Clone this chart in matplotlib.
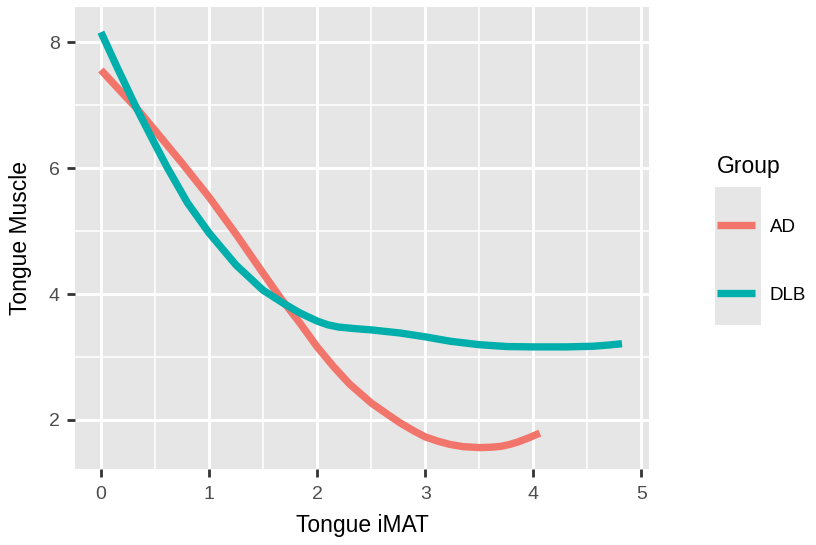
import matplotlib.pyplot as plt
from matplotlib.patches import Rectangle
from matplotlib.ticker import MultipleLocator

# smoothed curves
ad_x = [0, 0.15, 0.33, 0.5, 0.75, 1.0, 1.25, 1.5, 1.66, 1.84, 2.0, 2.15, 2.3, 2.5, 2.65, 2.77,
        2.9, 3.0, 3.12, 3.23, 3.35, 3.5, 3.6, 3.7, 3.78, 3.85, 3.95, 4.06]
ad_y = [7.56, 7.28, 6.95, 6.60, 6.08, 5.54, 4.95, 4.33, 3.94, 3.54, 3.16, 2.85, 2.57, 2.27, 2.09, 1.95,
        1.82, 1.73, 1.66, 1.61, 1.575, 1.56, 1.565, 1.58, 1.61, 1.645, 1.71, 1.79]

dlb_x = [0, 0.15, 0.33, 0.5, 0.61, 0.8, 1.0, 1.25, 1.5, 1.7, 1.84, 2.0, 2.1, 2.2, 2.35, 2.5, 2.77,
         3.0, 3.23, 3.5, 3.76, 4.0, 4.3, 4.55, 4.7, 4.82]
dlb_y = [8.16, 7.60, 6.95, 6.38, 6.02, 5.45, 4.97, 4.46, 4.06, 3.84, 3.70, 3.57, 3.51, 3.475, 3.45, 3.43, 3.38,
         3.32, 3.25, 3.195, 3.165, 3.16, 3.16, 3.17, 3.19, 3.21]

groups = ["AD", "DLB"]
colors = ["#F2756C", "#00AFAB"]

plt.rcParams['font.family'] = ['Liberation Sans', 'DejaVu Sans']

fig = plt.figure(figsize=(8.16, 5.45), dpi=100)
ax = fig.add_axes([75 / 816, 1 - 469 / 545, (649 - 75) / 816, (469 - 7) / 545])
ax.set_facecolor("#E6E6E6")

ax.plot(ad_x, ad_y, color=colors[0], lw=5.3, label=groups[0], solid_capstyle='butt')
ax.plot(dlb_x, dlb_y, color=colors[1], lw=5.3, label=groups[1], solid_capstyle='butt')

ax.set_xlim(-0.24, 5.07)
ax.set_ylim(1.22, 8.56)
ax.xaxis.set_major_locator(MultipleLocator(1))
ax.xaxis.set_minor_locator(MultipleLocator(0.5))
ax.yaxis.set_major_locator(MultipleLocator(2))
ax.yaxis.set_minor_locator(MultipleLocator(1))
ax.grid(which='major', color='white', lw=2.1)
ax.grid(which='minor', color='white', lw=1.1)
ax.set_axisbelow(True)
for s in ax.spines.values():
    s.set_visible(False)

ax.tick_params(which='major', length=6, width=2, color='#333333', labelsize=14,
               labelcolor='#4D4D4D')
ax.tick_params(axis='x', pad=6)
ax.tick_params(axis='y', pad=5)
ax.tick_params(which='minor', length=0)

ax.set_xlabel("Tongue iMAT", fontsize=16.5, labelpad=8)
ax.set_ylabel("Tongue Muscle", fontsize=16.5, labelpad=12)

# legend with grey key background like ggplot
fig.patches.append(Rectangle((715 / 816, 1 - 325 / 545), 46 / 816, 138 / 545,
                             transform=fig.transFigure, facecolor="#E6E6E6",
                             edgecolor='none', zorder=0))
leg = fig.legend(loc='upper left', bbox_to_anchor=(709 / 816, 1 - 148 / 545),
                 frameon=False, title="Group", fontsize=13.5, title_fontsize=16.5,
                 handlelength=2.05, handletextpad=0.8, labelspacing=2.7,
                 borderaxespad=0)
leg._legend_box.align = "left"
leg._legend_box.sep = 29
for line in leg.get_lines():
    line.set_linewidth(5.3)

fig.savefig("out.png", dpi=100)
